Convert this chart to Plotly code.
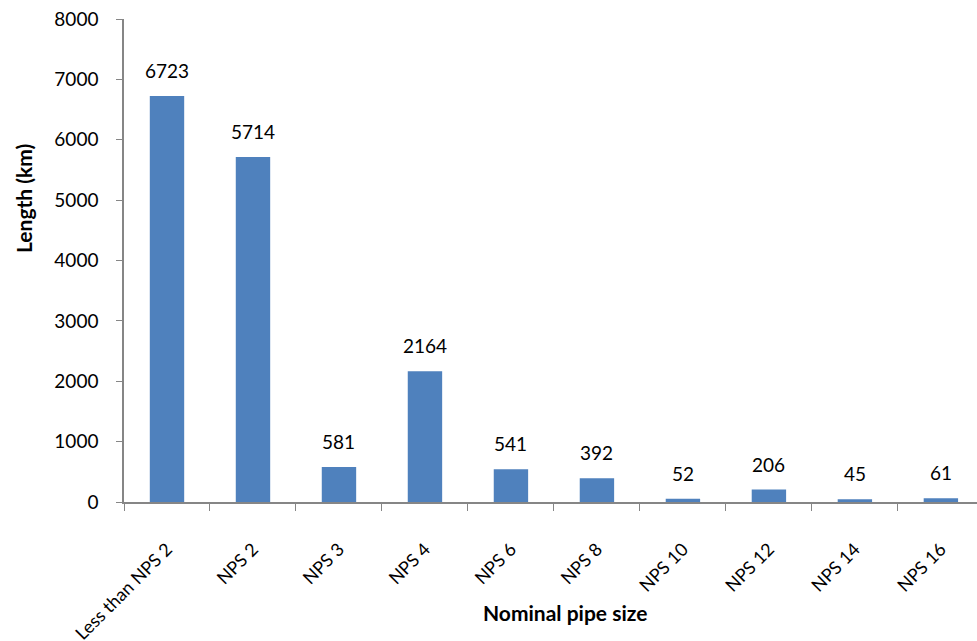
import plotly.graph_objects as go

categories = ["Less than NPS 2", "NPS 2", "NPS 3", "NPS 4", "NPS 6", "NPS 8",
              "NPS 10", "NPS 12", "NPS 14", "NPS 16"]
lengths_km = [6723, 5714, 581, 2164, 541, 392, 52, 206, 45, 61]

FONT = "Lato"

fig = go.Figure(go.Bar(
    x=categories, y=lengths_km,
    marker=dict(color="#4F81BD", line=dict(width=0)),
    cliponaxis=False,
))

for c, v in zip(categories, lengths_km):
    fig.add_annotation(x=c, y=v, text=str(v), showarrow=False,
                       yanchor="bottom", yshift=12,
                       font=dict(family=FONT, size=19, color="#000000"))

fig.add_annotation(xref="paper", yref="paper", x=(565 - 124) / 853, y=-(612 - 502) / 483,
                   text="<b>Nominal pipe size</b>", showarrow=False,
                   xanchor="center", yanchor="middle",
                   font=dict(family=FONT, size=21, color="#000000"))
fig.add_annotation(xref="paper", yref="paper", x=-(124 - 23) / 853, y=(502 - 199) / 483,
                   text="<b>Length (km)</b>", showarrow=False, textangle=-90,
                   xanchor="center", yanchor="middle",
                   font=dict(family=FONT, size=21, color="#000000"))

fig.update_layout(
    width=977, height=641,
    margin=dict(l=124, r=0, t=19, b=139),
    plot_bgcolor="white", paper_bgcolor="white",
    bargap=0.6, showlegend=False,
    font=dict(family=FONT, color="#000000"),
)
fig.update_xaxes(
    type="category", range=[-0.5, 9.42], automargin=False,
    showline=True, linecolor="#868686", linewidth=1.5,
    ticks="outside", tickson="boundaries", ticklen=7, tickcolor="#868686",
    tickangle=-45, tickfont=dict(family=FONT, size=18, color="#000000"),
    ticklabelstandoff=28,
    showgrid=False,
)
fig.update_yaxes(
    range=[0, 8000], dtick=1000, automargin=False,
    showline=True, linecolor="#868686", linewidth=1.5,
    ticks="outside", ticklen=6, tickcolor="#868686",
    tickfont=dict(family=FONT, size=19, color="#000000"),
    ticklabelstandoff=14,
    showgrid=False, zeroline=False,
)

fig.write_html("out.html")
